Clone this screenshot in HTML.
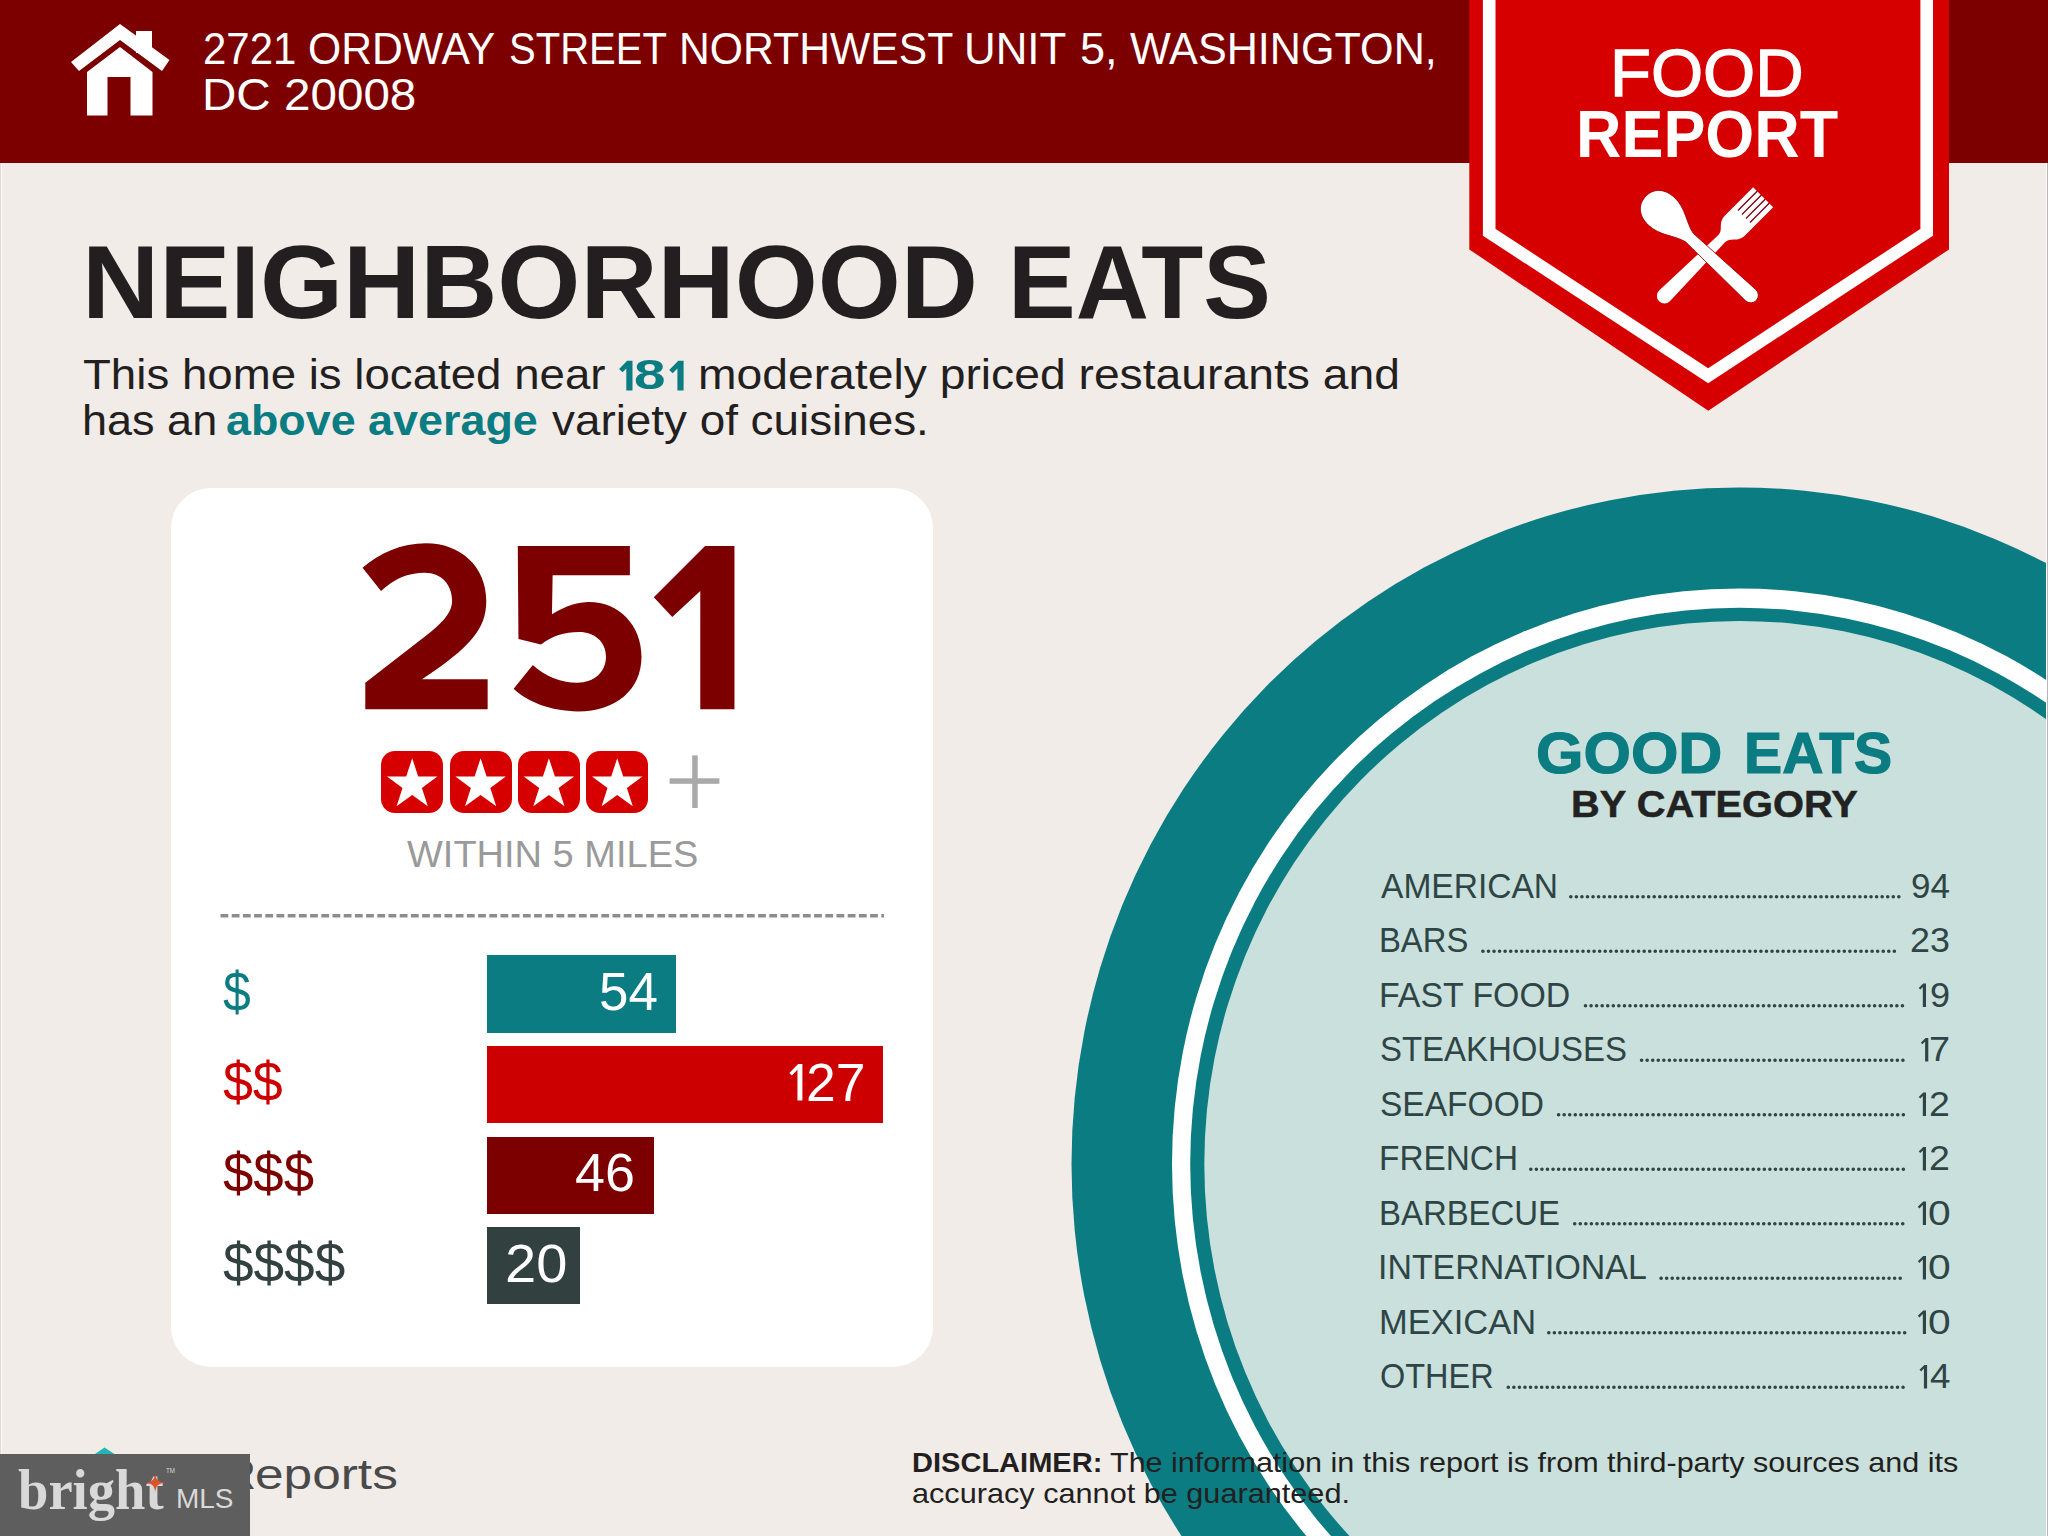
<!DOCTYPE html>
<html>
<head>
<meta charset="utf-8">
<title>Food Report</title>
<style>
html,body{margin:0;padding:0;}
body{width:2048px;height:1536px;position:relative;overflow:hidden;background:#f1ece8;font-family:"Liberation Sans",sans-serif;}
.abs{position:absolute;}
.t{position:absolute;white-space:nowrap;line-height:1;transform-origin:0 0;}
svg{position:absolute;left:0;top:0;overflow:visible;}
#hdr{left:0;top:0;width:2048px;height:163px;background:#7c0000;}
#card{left:171px;top:488px;width:762px;height:879px;background:#fff;border-radius:40px;}
.bar{position:absolute;left:486.8px;height:77.3px;}
.star{position:absolute;top:751px;width:62px;height:61.5px;border-radius:14px;background:#d60000;}
</style>
</head>
<body>
<div id="hdr" class="abs"></div>
<div class="abs" style="left:0;top:163px;width:1px;height:1373px;background:#dedad6;"></div>
<div class="abs" style="left:1px;top:163px;width:1px;height:1373px;background:#faf7f4;"></div>
<div class="abs" style="left:2046px;top:163px;width:1px;height:1373px;background:#ffffff;z-index:5;"></div>
<div class="abs" style="left:2047px;top:163px;width:1px;height:1373px;background:#b6b6b2;z-index:5;"></div>

<!-- plate circle -->
<svg width="2048" height="1536" viewBox="0 0 2048 1536">
  <ellipse cx="1739.2" cy="1164" rx="667.7" ry="676.6" fill="#0a7c82"/>
  <ellipse cx="1739.2" cy="1164" rx="567.2" ry="575.6" fill="#ffffff"/>
  <ellipse cx="1739.2" cy="1164" rx="549" ry="556.3" fill="#0a7c82"/>
  <ellipse cx="1739.2" cy="1164" rx="534.9" ry="543.1" fill="#c9e0dd"/>
  <g stroke="#2f4545" stroke-width="3.6" stroke-linecap="round" stroke-dasharray="0.01 5.55" fill="none"><line x1="1570.8" y1="896.7" x2="1899.1" y2="896.7"/><line x1="1482.9" y1="951.2" x2="1898.8" y2="951.2"/><line x1="1585.5" y1="1005.7" x2="1906.2" y2="1005.7"/><line x1="1641.6" y1="1060.2" x2="1908.3" y2="1060.2"/><line x1="1558.6" y1="1114.7" x2="1906.2" y2="1114.7"/><line x1="1530.8" y1="1169.2" x2="1906.2" y2="1169.2"/><line x1="1574.7" y1="1223.7" x2="1905.3" y2="1223.7"/><line x1="1661.1" y1="1278.2" x2="1905.3" y2="1278.2"/><line x1="1548.8" y1="1332.7" x2="1905.3" y2="1332.7"/><line x1="1508.3" y1="1387.2" x2="1907.0" y2="1387.2"/></g>
</svg>

<!-- badge -->
<svg width="2048" height="1536" viewBox="0 0 2048 1536">
  <polygon points="1469.3,0 1949,0 1949,249.4 1708.3,410.7 1469.3,249.4" fill="#d60000"/>
  <polyline points="1489.2,-10 1489.2,232.3 1708.2,375.7 1926.7,232.3 1926.7,-10" fill="none" stroke="#ffffff" stroke-width="12.6" stroke-linejoin="miter"/>
  <!-- fork -->
  <g transform="translate(1659.1,301.3) rotate(-45)" fill="#ffffff">
    <path d="M7.6,-7.6 L88,-4.9 C97,-4.9 96,-14.15 108,-14.15 L147.2,-14.15 L147.2,14.15 L108,14.15 C96,14.15 97,4.9 88,4.9 L7.6,7.6 A7.6,7.6 0 0 1 7.6,-7.6 Z"/>
    <g stroke="#7a0010" stroke-width="1.3">
      <line x1="120" y1="-8.5" x2="147.5" y2="-8.5"/><line x1="120" y1="-2.83" x2="147.5" y2="-2.83"/>
      <line x1="120" y1="2.83" x2="147.5" y2="2.83"/><line x1="120" y1="8.5" x2="147.5" y2="8.5"/>
    </g>
  </g>
  <!-- spoon -->
  <g transform="translate(1643.4,194.4) rotate(43.2)" fill="#ffffff" stroke="#a00000" stroke-width="0.8">
    <path d="M3,0 C3,-12 12,-19 25,-19 C40,-19 50,-9 63,-5.7 L147.3,-7.6 A7.6,7.6 0 0 1 147.3,7.6 L63,5.7 C50,9 40,19 25,19 C12,19 3,12 3,0 Z"/>
  </g>
</svg>

<!-- house icon -->
<svg width="300" height="163" viewBox="0 0 300 163">
  <g fill="#ffffff">
    <polygon points="120,24 169.5,60 162,71 120,40 79,71 71,62"/>
    <rect x="136" y="31" width="16" height="22"/>
    <path d="M87,72 L120,47 L152.5,72 L152.5,115.5 L130.5,115.5 L130.5,77 L107.5,77 L107.5,115.5 L87,115.5 Z"/>
  </g>
</svg>

<!-- card -->
<div id="card" class="abs"></div>
<div class="star" style="left:381.2px"></div>
<div class="star" style="left:449.6px"></div>
<div class="star" style="left:517.9px"></div>
<div class="star" style="left:586.2px"></div>
<svg width="2048" height="1536" viewBox="0 0 2048 1536">
  <polygon transform="translate(412.2,784.8)" points="0.0,-26.5 6.0,-8.3 25.2,-8.2 9.7,3.2 15.6,21.4 0.0,10.2 -15.6,21.4 -9.7,3.2 -25.2,-8.2 -6.0,-8.3" fill="#ffffff"/><polygon transform="translate(480.6,784.8)" points="0.0,-26.5 6.0,-8.3 25.2,-8.2 9.7,3.2 15.6,21.4 0.0,10.2 -15.6,21.4 -9.7,3.2 -25.2,-8.2 -6.0,-8.3" fill="#ffffff"/><polygon transform="translate(548.9,784.8)" points="0.0,-26.5 6.0,-8.3 25.2,-8.2 9.7,3.2 15.6,21.4 0.0,10.2 -15.6,21.4 -9.7,3.2 -25.2,-8.2 -6.0,-8.3" fill="#ffffff"/><polygon transform="translate(617.2,784.8)" points="0.0,-26.5 6.0,-8.3 25.2,-8.2 9.7,3.2 15.6,21.4 0.0,10.2 -15.6,21.4 -9.7,3.2 -25.2,-8.2 -6.0,-8.3" fill="#ffffff"/>
  <rect x="669.6" y="778.3" width="49.8" height="5.5" fill="#a9a9a9"/>
  <rect x="692.2" y="755.4" width="5.5" height="52.6" fill="#a9a9a9"/>
  <line x1="220.5" y1="915.8" x2="884" y2="915.8" stroke="#8c8c8c" stroke-width="3.5" stroke-dasharray="7.8 3.4"/>
</svg>
<div class="bar" style="top:955.4px;width:189.1px;background:#0a7c82;"></div>
<div class="bar" style="top:1046px;width:396.7px;background:#cc0000;"></div>
<div class="bar" style="top:1136.6px;width:167.1px;background:#7c0000;"></div>
<div class="bar" style="top:1227.2px;width:93.7px;background:#334040;"></div>

<svg width="2048" height="1536" viewBox="0 0 2048 1536">
  <g fill="#7c0000">
    <path transform="translate(340,520) scale(0.13671)" d="M165,350 C290,240 450,170 630,170 C880,170 1070,340 1070,590 C1070,800 950,930 600,1165 L1080,1165 L1080,1385 L185,1385 L185,1190 L560,900 C730,770 820,690 820,590 C820,470 740,385 620,385 C500,385 390,430 300,520 Z"/>
    <path transform="translate(500,520) scale(0.13671)" d="M130,190 L950,190 L950,405 L385,405 L380,690 C480,625 580,600 650,600 C870,600 1035,770 1035,1000 C1035,1240 850,1400 570,1400 C370,1400 200,1330 100,1235 L240,1060 C330,1140 440,1190 565,1190 C690,1190 775,1110 775,1000 C775,890 690,820 580,820 C470,820 380,850 300,910 L135,870 Z"/>
    <path transform="translate(500,520) scale(0.13671)" d="M1715,190 L1715,1385 L1465,1385 L1465,520 L1260,710 L1125,565 L1500,190 Z"/>
  </g>
</svg>
<div class="t" id="addr1_0" style="left:203.09px;top:26.75px;font-size:44px;color:#fff;transform:scaleX(0.9533);">2721</div>
<div class="t" id="addr1_1" style="left:308.06px;top:26.75px;font-size:44px;color:#fff;transform:scaleX(0.9698);">ORDWAY</div>
<div class="t" id="addr1_2" style="left:509.18px;top:26.75px;font-size:44px;color:#fff;transform:scaleX(0.9098);">STREET</div>
<div class="t" id="addr1_3" style="left:678.59px;top:26.75px;font-size:44px;color:#fff;transform:scaleX(0.9700);">NORTHWEST</div>
<div class="t" id="addr1_4" style="left:963.51px;top:26.75px;font-size:44px;color:#fff;transform:scaleX(0.9972);">UNIT</div>
<div class="t" id="addr1_5" style="left:1079.77px;top:26.75px;font-size:44px;color:#fff;transform:scaleX(1.0255);">5,</div>
<div class="t" id="addr1_6" style="left:1130.00px;top:26.75px;font-size:44px;color:#fff;transform:scaleX(0.9804);">WASHINGTON,</div>
<div class="t" id="addr2" style="left:201.75px;top:72.75px;font-size:44px;color:#fff;transform:scaleX(1.0818);">DC 20008</div>
<div class="t" id="food1" style="left:1610.40px;top:39.18px;font-size:67px;color:#fff;transform:scaleX(1.0008);-webkit-text-stroke:1.3px #fff;">FOOD</div>
<div class="t" id="food2" style="left:1576.02px;top:101.41px;font-size:66.5px;font-weight:bold;color:#fff;transform:scaleX(0.9461);">REPORT</div>
<div class="t" id="title" style="left:81.86px;top:229.91px;font-size:104.3px;font-weight:bold;color:#231f20;transform:scaleX(1.0240);">NEIGHBORHOOD</div>
<div class="t" id="title2" style="left:1008.17px;top:229.91px;font-size:104.3px;font-weight:bold;color:#231f20;transform:scaleX(0.9722);">EATS</div>
<div class="t" id="p1a" style="left:82.70px;top:354.42px;font-size:42.5px;color:#231f20;transform:scaleX(1.0736);">This home is located near</div>
<div class="t" id="p1b" style="left:634.37px;top:354.42px;font-size:42.5px;font-weight:bold;color:#0a7c82;transform:scaleX(1.3318);">8</div>
<div class="t" id="p1c" style="left:697.62px;top:354.42px;font-size:42.5px;color:#231f20;transform:scaleX(1.0883);">moderately priced restaurants and</div>
<div class="t" id="p2a" style="left:81.58px;top:400.02px;font-size:42.5px;color:#231f20;transform:scaleX(1.0596);">has an</div>
<div class="t" id="p2b" style="left:226.44px;top:400.02px;font-size:42.5px;font-weight:bold;color:#0a7c82;transform:scaleX(1.0556);">above average</div>
<div class="t" id="p2c" style="left:552.10px;top:400.02px;font-size:42.5px;color:#231f20;transform:scaleX(1.0779);">variety of cuisines.</div>
<div class="t" id="within" style="left:406.90px;top:835.70px;font-size:37.8px;color:#9a9a9a;transform:scaleX(1.0052);">WITHIN 5 MILES</div>
<div class="t" id="n1" style="left:598.60px;top:965.14px;font-size:53px;color:#fff;transform:scaleX(0.9986);">54</div>
<div class="t" id="n2" style="left:806.08px;top:1055.74px;font-size:53px;color:#fff;transform:scaleX(1.0096);">27</div>
<div class="t" id="n3" style="left:574.78px;top:1146.34px;font-size:53px;color:#fff;transform:scaleX(1.0164);">46</div>
<div class="t" id="n4" style="left:505.29px;top:1236.94px;font-size:53px;color:#fff;transform:scaleX(1.0563);">20</div>
<div class="t" id="d1" style="left:223.40px;top:963.56px;font-size:56.4px;color:#0a7c82;transform:scaleX(0.8839);">$</div>
<div class="t" id="d2" style="left:223.40px;top:1054.16px;font-size:56.4px;color:#cc0000;transform:scaleX(0.9525);">$$</div>
<div class="t" id="d3" style="left:223.40px;top:1144.76px;font-size:56.4px;color:#7c0000;transform:scaleX(0.9667);">$$$</div>
<div class="t" id="d4" style="left:223.40px;top:1235.36px;font-size:56.4px;color:#334040;transform:scaleX(0.9745);">$$$$</div>
<div class="t" id="good" style="left:1536.17px;top:724.51px;font-size:57.4px;font-weight:bold;color:#0a7c82;transform:scaleX(1.0627);-webkit-text-stroke:1.2px #0a7c82;">GOOD</div>
<div class="t" id="good2" style="left:1744.01px;top:724.51px;font-size:57.4px;font-weight:bold;color:#0a7c82;transform:scaleX(0.9964);-webkit-text-stroke:1.2px #0a7c82;">EATS</div>
<div class="t" id="bycat" style="left:1570.99px;top:786.10px;font-size:37.8px;font-weight:bold;color:#222222;transform:scaleX(1.0532);-webkit-text-stroke:0.5px #222222;">BY CATEGORY</div>
<div class="t" id="r0" style="left:1381.40px;top:868.97px;font-size:34.3px;color:#2f4545;transform:scaleX(0.9783);">AMERICAN</div>
<div class="t" id="q0_0" style="left:1910.58px;top:868.97px;font-size:34.3px;color:#2f4545;transform:scaleX(1.0196);">94</div>
<div class="t" id="r1" style="left:1379.49px;top:923.47px;font-size:34.3px;color:#2f4545;transform:scaleX(0.9556);">BARS</div>
<div class="t" id="q1_0" style="left:1910.25px;top:923.47px;font-size:34.3px;color:#2f4545;transform:scaleX(1.0451);">23</div>
<div class="t" id="r2" style="left:1379.43px;top:977.97px;font-size:34.3px;color:#2f4545;transform:scaleX(0.9870);">FAST FOOD</div>
<div class="t" id="q2_1" style="left:1929.95px;top:977.97px;font-size:34.3px;color:#2f4545;transform:scaleX(1.0529);">9</div>
<div class="t" id="r3" style="left:1380.44px;top:1032.47px;font-size:34.3px;color:#2f4545;transform:scaleX(0.9600);">STEAKHOUSES</div>
<div class="t" id="q3_1" style="left:1929.49px;top:1032.47px;font-size:34.3px;color:#2f4545;transform:scaleX(1.1059);">7</div>
<div class="t" id="r4" style="left:1380.42px;top:1086.97px;font-size:34.3px;color:#2f4545;transform:scaleX(0.9775);">SEAFOOD</div>
<div class="t" id="q4_1" style="left:1928.91px;top:1086.97px;font-size:34.3px;color:#2f4545;transform:scaleX(1.0941);">2</div>
<div class="t" id="r5" style="left:1379.45px;top:1141.47px;font-size:34.3px;color:#2f4545;transform:scaleX(0.9730);">FRENCH</div>
<div class="t" id="q5_1" style="left:1928.91px;top:1141.47px;font-size:34.3px;color:#2f4545;transform:scaleX(1.0941);">2</div>
<div class="t" id="r6" style="left:1379.48px;top:1195.97px;font-size:34.3px;color:#2f4545;transform:scaleX(0.9596);">BARBECUE</div>
<div class="t" id="q6_1" style="left:1928.01px;top:1195.97px;font-size:34.3px;color:#2f4545;transform:scaleX(1.1882);">0</div>
<div class="t" id="r7" style="left:1378.43px;top:1250.47px;font-size:34.3px;color:#2f4545;transform:scaleX(0.9885);">INTERNATIONAL</div>
<div class="t" id="q7_1" style="left:1928.01px;top:1250.47px;font-size:34.3px;color:#2f4545;transform:scaleX(1.1882);">0</div>
<div class="t" id="r8" style="left:1379.39px;top:1304.97px;font-size:34.3px;color:#2f4545;transform:scaleX(1.0060);">MEXICAN</div>
<div class="t" id="q8_1" style="left:1928.01px;top:1304.97px;font-size:34.3px;color:#2f4545;transform:scaleX(1.1882);">0</div>
<div class="t" id="r9" style="left:1380.45px;top:1359.47px;font-size:34.3px;color:#2f4545;transform:scaleX(0.9461);">OTHER</div>
<div class="t" id="q9_1" style="left:1929.60px;top:1359.47px;font-size:34.3px;color:#2f4545;transform:scaleX(1.0737);">4</div>
<div class="t" id="disc1a" style="left:912.18px;top:1448.37px;font-size:28.5px;font-weight:bold;color:#231f20;transform:scaleX(1.0189);">DISCLAIMER:</div>
<div class="t" id="disc1b" style="left:1110.00px;top:1448.37px;font-size:28.5px;color:#231f20;transform:scaleX(1.0711);">The information in this report is from third-party sources and its</div>
<div class="t" id="disc2" style="left:912.12px;top:1479.07px;font-size:28.5px;color:#231f20;transform:scaleX(1.0755);">accuracy cannot be guaranteed.</div>
<div class="t" id="repR" style="left:224.94px;top:1454.45px;font-size:42px;color:#4a4a4a;transform:scaleX(1.0192);">R</div>
<div class="t" id="reports" style="left:255.18px;top:1454.45px;font-size:42px;color:#4a4a4a;transform:scaleX(1.2237);">eports</div>
<svg width="2048" height="1536" viewBox="0 0 2048 1536"><polygon fill="#0a7c82" points="632.50,360.80 632.50,390.40 626.31,390.40 626.31,368.61 622.57,372.35 619.10,368.88 627.18,360.80"/><polygon fill="#0a7c82" points="683.60,360.80 683.60,390.40 677.41,390.40 677.41,368.61 672.67,373.35 669.20,369.88 678.28,360.80"/><polygon fill="#fff" points="802.40,1064.10 802.40,1100.60 797.47,1100.60 797.47,1069.85 791.83,1075.49 789.30,1072.96 798.16,1064.10"/><polygon fill="#2f4545" points="1926.00,983.40 1926.00,1007.00 1922.81,1007.00 1922.81,987.12 1920.34,989.60 1918.70,987.96 1923.26,983.40"/><polygon fill="#2f4545" points="1928.30,1037.90 1928.30,1061.50 1925.11,1061.50 1925.11,1041.62 1922.44,1044.30 1920.80,1042.66 1925.56,1037.90"/><polygon fill="#2f4545" points="1926.00,1092.40 1926.00,1116.00 1922.81,1116.00 1922.81,1096.12 1920.34,1098.60 1918.70,1096.96 1923.26,1092.40"/><polygon fill="#2f4545" points="1926.00,1146.90 1926.00,1170.50 1922.81,1170.50 1922.81,1150.62 1920.34,1153.10 1918.70,1151.46 1923.26,1146.90"/><polygon fill="#2f4545" points="1926.00,1201.40 1926.00,1225.00 1922.81,1225.00 1922.81,1205.12 1919.44,1208.50 1917.80,1206.86 1923.26,1201.40"/><polygon fill="#2f4545" points="1926.00,1255.90 1926.00,1279.50 1922.81,1279.50 1922.81,1259.62 1919.44,1263.00 1917.80,1261.36 1923.26,1255.90"/><polygon fill="#2f4545" points="1926.00,1310.40 1926.00,1334.00 1922.81,1334.00 1922.81,1314.12 1919.44,1317.50 1917.80,1315.86 1923.26,1310.40"/><polygon fill="#2f4545" points="1927.10,1364.90 1927.10,1388.50 1923.91,1388.50 1923.91,1368.62 1921.14,1371.40 1919.50,1369.76 1924.36,1364.90"/></svg>

<!-- bright MLS watermark -->
<svg width="2048" height="1536" viewBox="0 0 2048 1536">
  <polygon points="93.5,1455 104.5,1447.5 116,1455" fill="#22b5b5"/>
</svg>
<div class="abs" style="left:0;top:1454px;width:250px;height:82px;background:#5e5e5e;"></div>
<div class="t" id="wm1" style="left:18.00px;top:1461.60px;font-size:56px;font-weight:bold;color:#d9d9d9;transform:scaleX(0.9753);font-family:'Liberation Serif',serif;">bright</div>
<div class="t" id="wm2" style="left:176.33px;top:1485.64px;font-size:27px;color:#d9d9d9;transform:scaleX(1.0360);">MLS</div>
<div class="t" id="wm3" style="left:165.70px;top:1468.30px;font-size:6.5px;color:#d9d9d9;transform:scaleX(0.9587);">TM</div>
<svg width="2048" height="1536" viewBox="0 0 2048 1536">
  <path d="M155.2,1473.5 C156.2,1479.8 158,1481.7 164.5,1482.7 C158,1483.7 156.2,1485.6 155.2,1492 C154.2,1485.6 152.4,1483.7 146,1482.7 C152.4,1481.7 154.2,1479.8 155.2,1473.5 Z" fill="#d9532b"/>
</svg>
</body>
</html>
